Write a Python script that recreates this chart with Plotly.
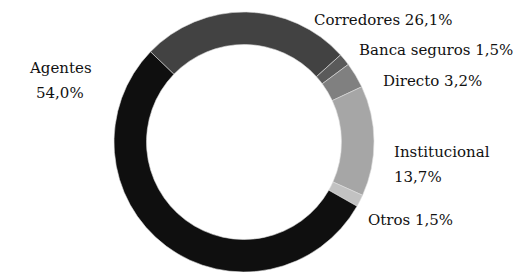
import plotly.graph_objects as go

categories = ["Corredores", "Banca seguros", "Directo", "Institucional", "Otros", "Agentes"]
values = [26.1, 1.5, 3.2, 13.7, 1.5, 54.0]
colors = ["#424242", "#5a5a5a", "#808080", "#a6a6a6", "#c2c2c2", "#0f0f0f"]

def fmt(v):
    return f"{v:.1f}".replace(".", ",") + "%"

# page body has an 8px margin; work in figure coordinates
OFF = 8
W, H = 527 - OFF, 272 - OFF
CX, R = 244 - OFF, 130
fig = go.Figure(go.Pie(
    labels=categories, values=values, sort=False, direction="clockwise",
    rotation=-46, hole=0.75, textinfo="none", hoverinfo="label+percent",
    marker=dict(colors=colors, line=dict(color="#dddddd", width=0.6)),
    domain=dict(x=[(CX - R) / W, (CX + R) / W], y=[0, 2 * R / H]),
    showlegend=False,
))

FONT = dict(family="DejaVu Serif", size=15, color="#111111")
# label layout: (category index, x px, y px of first line, anchor, two lines)
label_pos = [
    (0, 312, 20, "left", False),
    (1, 357, 50, "left", False),
    (2, 381, 81, "left", False),
    (3, 392, 152, "left", True),
    (4, 366, 220, "left", False),
    (5, 60, 68, "center", True),
]
ann = []
for i, x, y, anchor, two in label_pos:
    lines = [categories[i], fmt(values[i])] if two else [f"{categories[i]} {fmt(values[i])}"]
    for k, t in enumerate(lines):
        ann.append(dict(text=t, x=(x - OFF) / W, y=1 - (y - OFF + 25 * k) / H, xref="paper", yref="paper",
                        xanchor=anchor, yanchor="middle", showarrow=False, font=FONT))

fig.update_layout(width=W, height=H, margin=dict(l=0, r=0, t=0, b=0),
                  paper_bgcolor="white", plot_bgcolor="white", annotations=ann)
fig.write_html("out.html")
